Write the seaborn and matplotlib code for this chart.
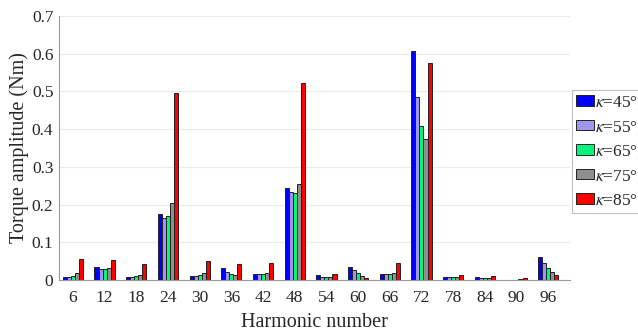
import pandas as pd
import matplotlib
matplotlib.use("Agg")
import matplotlib.pyplot as plt
import seaborn as sns
from matplotlib.ticker import FuncFormatter

# Harmonic orders and torque amplitudes (Nm)
harmonics = [6, 12, 18, 24, 30, 36, 42, 48, 54, 60, 66, 72, 78, 84, 90, 96]
k45 = [0.009, 0.034, 0.008, 0.174, 0.010, 0.032, 0.015, 0.244, 0.012, 0.035, 0.017, 0.606, 0.009, 0.007, 0.001, 0.062]
k55 = [0.009, 0.030, 0.008, 0.164, 0.010, 0.022, 0.015, 0.234, 0.009, 0.026, 0.017, 0.485, 0.009, 0.006, 0.001, 0.044]
k65 = [0.011, 0.030, 0.010, 0.169, 0.012, 0.015, 0.015, 0.232, 0.007, 0.018, 0.017, 0.408, 0.009, 0.006, 0.001, 0.031]
k75 = [0.018, 0.033, 0.014, 0.204, 0.019, 0.012, 0.018, 0.255, 0.007, 0.010, 0.019, 0.374, 0.009, 0.006, 0.002, 0.020]
k85 = [0.057, 0.053, 0.042, 0.495, 0.050, 0.042, 0.044, 0.523, 0.015, 0.004, 0.046, 0.576, 0.013, 0.011, 0.005, 0.013]
series_labels = [r"$\kappa$=45°;", r"$\kappa$=55°;", r"$\kappa$=65°;", r"$\kappa$=75°;", r"$\kappa$=85°"]
colors = ["#0000ff", "#9f97ee", "#00f57a", "#8f8f8f", "#ff0000"]

rows = []
for lab, vals in zip(series_labels, [k45, k55, k65, k75, k85]):
    for h, v in zip(harmonics, vals):
        rows.append({"Harmonic": str(h), "Torque": v, "kappa": lab})
df = pd.DataFrame(rows)

sns.set_theme(style="white")
plt.rcParams["font.family"] = ["Liberation Serif", "DejaVu Serif"]
plt.rcParams["mathtext.fontset"] = "stix"

fig = plt.figure(figsize=(6.38, 3.33), dpi=100)
ax = fig.add_axes([59 / 638, 1 - 280 / 333, (570 - 59) / 638, (280 - 16) / 333])

sns.barplot(
    data=df, x="Harmonic", y="Torque", hue="kappa",
    order=[str(h) for h in harmonics], hue_order=series_labels,
    palette=colors, width=0.64, edgecolor="#222222", linewidth=0.7,
    saturation=1, ax=ax, legend=True,
)

ax.set_xlim(-0.44, 15.69)
ax.set_ylim(0, 0.7)
ax.set_yticks([0, 0.1, 0.2, 0.3, 0.4, 0.5, 0.6, 0.7])
ax.yaxis.set_major_formatter(FuncFormatter(lambda v, p: "0" if v == 0 else f"{v:.1f}"))
ax.yaxis.grid(True, color="#ebebeb", linewidth=0.8)
ax.set_axisbelow(True)
for s in ["top", "right"]:
    ax.spines[s].set_visible(False)
for s in ["left", "bottom"]:
    ax.spines[s].set_color("#9a9a9a")
    ax.spines[s].set_linewidth(0.8)
ax.tick_params(axis="both", direction="in", length=3, color="#9a9a9a", labelsize=12.5, colors="#262626", pad=4)
ax.tick_params(axis="x", pad=7)

ax.set_xlabel("Harmonic number", fontsize=14.5, color="#262626", labelpad=5)
ax.set_ylabel("Torque amplitude (Nm)", fontsize=14.5, color="#262626", labelpad=2)

handles, labels = ax.get_legend_handles_labels()
ax.get_legend().remove()
leg = fig.legend(
    handles, labels, loc="upper left", bbox_to_anchor=(572 / 638, 1 - 90 / 333),
    fontsize=12.5, frameon=True, fancybox=False, handlelength=1.0, handleheight=0.55,
    handletextpad=0.1, labelspacing=0.45, borderpad=0.25, borderaxespad=0,
)
leg.get_frame().set_edgecolor("#b0b0b0")
leg.get_frame().set_linewidth(0.8)

fig.savefig("out.png", dpi=100)
